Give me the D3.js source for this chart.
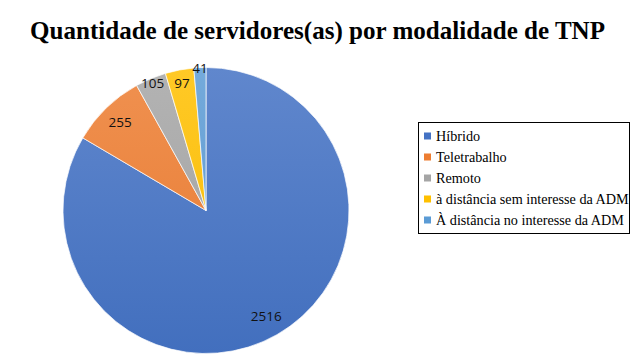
<!DOCTYPE html>
<html>
<head>
<meta charset="utf-8">
<script src="https://cdn.jsdelivr.net/npm/d3@7"></script>
<style>
  html, body { margin: 0; padding: 0; background: #fff; }
  svg { display: block; }
</style>
</head>
<body>
<svg id="chart" width="636" height="356"></svg>
<script>
const title = "Quantidade de servidores(as) por modalidade de TNP";
const categories = ["Híbrido", "Teletrabalho", "Remoto", "à distância sem interesse da ADM", "À distância no interesse da ADM"];
const values = [2516, 255, 105, 97, 41];
const colors = ["#4472C4", "#ED7D31", "#A5A5A5", "#FFC000", "#5B9BD5"];

const svg = d3.select("#chart");
const W = 636, H = 356;
svg.append("rect").attr("width", W).attr("height", H).attr("fill", "#fff");

// Title
svg.append("text")
  .attr("x", 317.5).attr("y", 38.5)
  .attr("text-anchor", "middle")
  .attr("font-family", "'Liberation Serif', 'Times New Roman', serif")
  .attr("font-weight", "bold")
  .attr("font-size", 25)
  .attr("fill", "#000")
  .attr("textLength", 575)
  .attr("lengthAdjust", "spacingAndGlyphs")
  .text(title);

// Gradients
const defs = svg.append("defs");
colors.forEach((c, i) => {
  const g = defs.append("linearGradient").attr("id", "g" + i)
    .attr("gradientUnits", "userSpaceOnUse")
    .attr("x1", 0).attr("y1", -143).attr("x2", 0).attr("y2", 143);
  g.append("stop").attr("offset", "0%").attr("stop-color", d3.interpolateRgb(c, "#fff")(0.15));
  g.append("stop").attr("offset", "100%").attr("stop-color", d3.interpolateRgb(c, "#000")(0.03));
});

const cx = 206, cy = 210.5, R = 143;
const pie = d3.pie().sort(null).value(d => d)(values);
const arc = d3.arc().innerRadius(0).outerRadius(R);
const g = svg.append("g").attr("transform", `translate(${cx},${cy})`);

g.selectAll("path").data(pie).join("path")
  .attr("d", arc)
  .attr("fill", (d, i) => `url(#g${i})`)
  .attr("stroke", "#fff")
  .attr("stroke-width", 0.7);

// Data labels (radius factors tuned per slice to avoid overlap, like the original)
const labelRadius = [0.85, 0.86, 0.965, 0.905, 1.0];
g.selectAll("text.lbl").data(pie).join("text")
  .attr("class", "lbl")
  .attr("transform", (d, i) => {
    const a = (d.startAngle + d.endAngle) / 2;
    const r = R * labelRadius[i];
    return `translate(${r * Math.sin(a)},${-r * Math.cos(a)})`;
  })
  .attr("text-anchor", "middle")
  .attr("dy", "0.36em")
  .attr("font-family", "'Open Sans', 'Liberation Sans', sans-serif")
  .attr("font-size", 13.5)
  .attr("fill", "#111")
  .text((d, i) => values[i]);

// Legend
const lx = 418, ly = 122, lw = 211, lh = 111;
svg.append("rect").attr("x", lx + 0.5).attr("y", ly + 0.5).attr("width", lw).attr("height", lh)
  .attr("fill", "#fff").attr("stroke", "#000").attr("stroke-width", 1);
const rowY = d3.scalePoint().domain(categories).range([136, 220]);
const li = svg.append("g").selectAll("g").data(categories).join("g")
  .attr("transform", d => `translate(0,${rowY(d)})`);
li.append("rect").attr("x", 424).attr("y", -3.5).attr("width", 7).attr("height", 7)
  .attr("fill", (d, i) => colors[i]);
li.append("text").attr("x", 436).attr("dy", "0.35em")
  .attr("font-family", "'Liberation Serif', 'Times New Roman', serif")
  .attr("font-size", 14.2)
  .attr("fill", "#000")
  .text(d => d);
</script>
</body>
</html>
